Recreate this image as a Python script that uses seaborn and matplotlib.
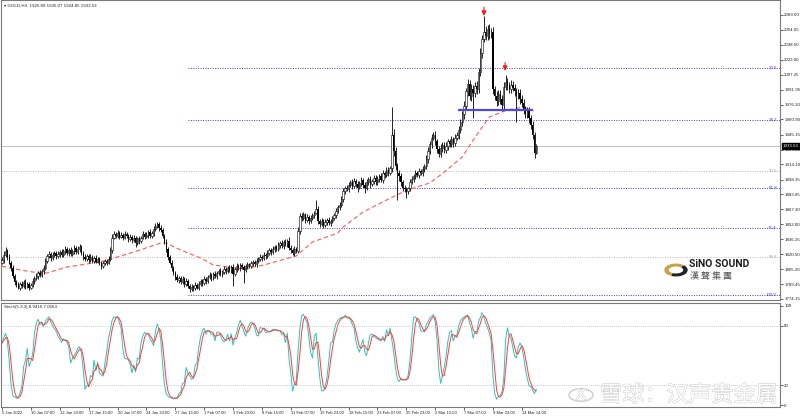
import numpy as np
import pandas as pd
import seaborn as sns
import matplotlib.pyplot as plt
import matplotlib.patheffects as pe
from matplotlib.patches import Circle, Wedge

# GOLD H4 closes, one row per x-axis label (16 bars)
closes = [
    1815, 1820, 1824, 1818, 1812, 1806, 1798, 1792, 1789, 1786, 1790, 1788, 1792, 1787, 1790, 1786,
    1789, 1793, 1796, 1798, 1801, 1799, 1803, 1806, 1814, 1819, 1821, 1817, 1820, 1822, 1819, 1821,
    1823, 1820, 1824, 1826, 1822, 1825, 1821, 1824, 1827, 1823, 1826, 1828, 1822, 1818, 1816, 1819,
    1815, 1818, 1814, 1817, 1813, 1816, 1812, 1808, 1811, 1814, 1812, 1816, 1825, 1838, 1842, 1840,
    1843, 1839, 1841, 1838, 1842, 1840, 1836, 1839, 1835, 1838, 1832, 1837, 1834, 1838, 1842, 1839,
    1841, 1844, 1840, 1843, 1847, 1850, 1852, 1848, 1846, 1840, 1833, 1826, 1818, 1812, 1806, 1801,
    1797, 1794, 1796, 1792, 1795, 1790, 1793, 1788, 1784, 1787, 1785, 1789, 1786, 1790, 1793, 1791,
    1795, 1793, 1797, 1799, 1796, 1800, 1798, 1801, 1803, 1800, 1802, 1805, 1803, 1806, 1804, 1807,
    1800, 1805, 1808, 1806, 1809, 1807, 1804, 1808, 1810, 1808, 1811, 1813, 1810, 1814, 1816, 1818,
    1817, 1820, 1819, 1822, 1825, 1823, 1826, 1828, 1826, 1830, 1832, 1829, 1833, 1831, 1834, 1827,
    1825, 1822, 1826, 1824, 1845, 1860, 1858, 1862, 1856, 1859, 1855, 1858, 1861, 1864, 1868, 1855,
    1852, 1855, 1851, 1854, 1856, 1853, 1855, 1858, 1861, 1866, 1870, 1872, 1878, 1886, 1890, 1888,
    1893, 1896, 1892, 1897, 1894, 1890, 1895, 1898, 1893, 1889, 1896, 1899, 1894, 1897, 1900, 1896,
    1899, 1902, 1898, 1905, 1903, 1908, 1905, 1910, 1945, 1928, 1912, 1905, 1902, 1896, 1890, 1888,
    1886, 1889, 1896, 1899, 1902, 1905, 1903, 1907, 1905, 1909, 1912, 1920, 1928, 1935, 1942, 1945,
    1938, 1930, 1925, 1931, 1934, 1929, 1933, 1938, 1935, 1940, 1936, 1942, 1945, 1950, 1958, 1966,
    1975, 1990, 1998, 1985, 1993, 1988, 1996, 1992, 2010, 2030, 2045, 2052, 2048, 2055, 2050, 2052,
    1992, 1985, 1980, 1987, 1982, 1976, 1995, 2000, 1996, 1992, 1997, 1994, 1990, 1986, 1988, 1982,
    1978, 1972, 1966, 1970, 1962, 1955, 1945, 1925.89, 1933.53,
]
first_open = 1812

# shadow lengths above / below the body
wick_up = [
    3, 4, 4, 2, 3, 2, 3, 2, 2, 3, 2, 3, 2, 3, 2, 2,
    2, 3, 2, 3, 2, 3, 2, 3, 3, 2, 3, 2, 3, 2, 2, 3,
    2, 3, 2, 3, 2, 2, 3, 2, 3, 2, 3, 3, 2, 2, 3, 2,
    2, 3, 2, 2, 3, 2, 2, 2, 3, 2, 2, 3, 3, 4, 3, 2,
    3, 2, 3, 2, 3, 2, 2, 3, 2, 3, 2, 2, 3, 2, 3, 2,
    3, 2, 3, 2, 3, 3, 2, 2, 3, 2, 2, 3, 2, 2, 3, 2,
    2, 3, 2, 2, 3, 2, 3, 2, 2, 3, 2, 3, 2, 3, 2, 2,
    3, 2, 2, 3, 2, 2, 3, 2, 2, 3, 2, 3, 2, 2, 3, 2,
    3, 2, 3, 2, 2, 3, 2, 2, 3, 2, 3, 2, 2, 3, 2, 3,
    2, 3, 2, 3, 2, 2, 3, 2, 2, 3, 2, 3, 2, 3, 2, 5,
    3, 2, 3, 2, 4, 3, 3, 3, 2, 3, 2, 3, 3, 2, 9, 3,
    2, 3, 2, 3, 2, 3, 2, 2, 3, 3, 2, 3, 3, 3, 2, 3,
    3, 2, 3, 3, 2, 3, 2, 3, 2, 3, 3, 2, 3, 2, 3, 3,
    3, 2, 3, 3, 2, 3, 3, 2, 29, 6, 4, 4, 3, 3, 2, 3,
    3, 2, 3, 3, 2, 3, 2, 3, 2, 3, 3, 4, 4, 3, 4, 3,
    4, 3, 3, 4, 3, 3, 4, 3, 3, 4, 3, 4, 3, 4, 3, 4,
    5, 4, 5, 4, 5, 4, 4, 5, 4, 5, 4, 16, 6, 4, 5, 4,
    5, 4, 5, 4, 4, 4, 5, 7, 4, 4, 5, 4, 4, 4, 4, 4,
    4, 4, 3, 4, 4, 3, 4, 3, 1.54,
]
wick_dn = [
    2, 3, 2, 3, 2, 3, 2, 3, 2, 2, 3, 2, 2, 3, 2, 3,
    2, 2, 3, 2, 3, 2, 2, 3, 2, 3, 2, 3, 2, 2, 3, 2,
    3, 2, 2, 3, 2, 3, 2, 2, 3, 2, 2, 3, 2, 3, 2, 2,
    3, 2, 2, 3, 2, 2, 3, 3, 2, 2, 3, 2, 2, 3, 2, 3,
    2, 3, 2, 3, 2, 2, 3, 2, 3, 2, 4, 2, 3, 2, 2, 3,
    2, 3, 2, 2, 3, 2, 2, 3, 2, 3, 2, 3, 3, 2, 3, 2,
    3, 2, 3, 2, 2, 3, 2, 3, 3, 2, 3, 2, 2, 3, 2, 3,
    2, 3, 2, 2, 3, 2, 2, 3, 2, 2, 3, 2, 3, 2, 2, 3,
    12, 2, 3, 2, 3, 2, 13, 2, 3, 2, 2, 3, 2, 3, 2, 2,
    3, 2, 3, 2, 2, 3, 2, 3, 2, 2, 3, 2, 3, 2, 3, 2,
    3, 2, 3, 2, 2, 3, 3, 2, 3, 2, 3, 2, 2, 3, 2, 3,
    3, 2, 3, 2, 3, 2, 3, 2, 2, 3, 2, 3, 2, 3, 3, 2,
    3, 2, 4, 2, 3, 5, 2, 3, 3, 5, 2, 3, 4, 2, 3, 3,
    3, 3, 2, 3, 3, 2, 3, 2, 4, 5, 4, 28, 5, 4, 4, 3,
    7, 3, 3, 2, 3, 3, 2, 3, 2, 3, 3, 3, 4, 3, 4, 3,
    4, 4, 3, 3, 4, 3, 3, 4, 3, 3, 4, 3, 3, 4, 3, 4,
    5, 4, 5, 4, 5, 26, 4, 5, 4, 4, 5, 4, 5, 4, 5, 4,
    5, 4, 5, 4, 5, 6, 4, 4, 5, 4, 4, 4, 5, 28, 4, 5,
    4, 5, 4, 4, 5, 4, 5, 5, 1.04,
]

date_labels = [
    "5 Jan 2022", "10 Jan 07:00", "12 Jan 23:00", "17 Jan 15:00", "20 Jan 07:00",
    "24 Jan 23:00", "27 Jan 15:00", "1 Feb 07:00", "3 Feb 23:00", "8 Feb 15:00",
    "11 Feb 07:00", "15 Feb 23:00", "18 Feb 15:00", "23 Feb 07:00", "25 Feb 23:00",
    "2 Mar 15:00", "7 Mar 07:00", "9 Mar 23:00", "14 Mar 14:00",
]
price_ticks = [
    2069.60, 2054.05, 2038.50, 2023.00, 2007.25, 1991.95, 1976.20, 1960.90, 1945.15,
    1929.40, 1914.10, 1898.35, 1883.05, 1867.30, 1852.00, 1836.25, 1820.50, 1805.20,
    1789.45, 1774.15,
]

# moving average (bar, price)
ma_bars = [0, 4, 17, 25, 36, 54, 60, 73, 88, 91, 99, 110, 117, 134, 145, 163,
           172, 186, 189, 200, 213, 221, 228, 237, 245, 255, 261, 270, 280, 289, 296]
ma_values = [1808.3, 1806.3, 1802.1, 1801.1, 1807.3, 1812.5, 1815.6, 1822.9, 1832.3,
             1832.3, 1825.0, 1816.7, 1809.4, 1805.2, 1809.4, 1818.8, 1833.3, 1842.7,
             1848.9, 1864.5, 1877.0, 1884.3, 1889.5, 1894.7, 1906.1, 1921.8, 1939.4,
             1963.4, 1970.7, 1973.8, 1968.6]

fib_levels = [2014.4, 1960.3, 1890.0, 1847.4, 1778.2]
fib_names = ["23.6", "38.2", "61.8", "76.4", "100.0"]
grey_levels = [1906.7, 1817.7]
grey_names = ["50.0", "88.6"]
fib_start = 103

neck_level = 1970.7
neck_from, neck_to = 252.6, 294.2
arrow_bars = [267, 278.7]
arrow_tips = [2068.5, 2011.2]
arrow_tails = [2077.5, 2020.0]
last_price = 1933.53

# ---- build OHLC table
n = len(closes)
df = pd.DataFrame({"close": closes})
df["open"] = [first_open] + closes[:-1]
df["high"] = df[["open", "close"]].max(axis=1) + wick_up
df["low"] = df[["open", "close"]].min(axis=1) - wick_dn
df["bar"] = np.arange(n)

# stochastic 5,3,3
ll = df["low"].rolling(5, min_periods=1).min()
hh = df["high"].rolling(5, min_periods=1).max()
df["k"] = 100 * (df["close"] - ll).rolling(3, min_periods=1).sum() / (hh - ll).rolling(3, min_periods=1).sum()
df["d"] = df["k"].rolling(3, min_periods=1).mean()

sns.set_theme(style="white")
plt.rcParams["font.family"] = ["Liberation Sans", "DejaVu Sans"]
small = 3.2

W, H = 800, 418
fig = plt.figure(figsize=(8, 4.18), dpi=100)
ax = fig.add_axes([1 / W, 118 / H, 779 / W, 300 / H])
ax2 = fig.add_axes([1 / W, 11 / H, 779 / W, 104 / H])

xlim = (-0.554, 431.0)
for a in (ax, ax2):
    a.set_xlim(*xlim)
    a.set_facecolor("white")
    for s in a.spines.values():
        s.set_color("#7a7a7a")
        s.set_linewidth(0.8)
ax.set_ylim(1773.0, 2085.1)
ax2.set_ylim(-2.0, 103.0)

# price lines
ax.axhline(last_price, color="#b4b4b4", lw=0.6, zorder=1)
for lv in fib_levels:
    ax.hlines(lv, fib_start, xlim[1], color="#3a3aff", lw=0.7, linestyles=(0, (1, 1.5)), zorder=1)
for lv in grey_levels:
    ax.hlines(lv, xlim[0], xlim[1], color="#b8b8b8", lw=0.7, linestyles=(0, (1, 1.5)), zorder=1)
for lv, nm in zip(fib_levels, fib_names):
    ax.text(0.996, lv, nm, transform=ax.get_yaxis_transform(), ha="right", va="center",
            fontsize=small, color="#3a3aff")
for lv, nm in zip(grey_levels, grey_names):
    ax.text(0.996, lv, nm, transform=ax.get_yaxis_transform(), ha="right", va="center",
            fontsize=small, color="#a8a8a8")

# candles
up = df[df["close"] >= df["open"]]
dn = df[df["close"] < df["open"]]
ax.vlines(df["bar"], df["low"], df["high"], color="black", lw=0.6, zorder=3)
ax.bar(up["bar"], up["close"] - up["open"], bottom=up["open"], width=0.75,
       facecolor="white", edgecolor="black", lw=0.4, zorder=4)
ax.bar(dn["bar"], dn["open"] - dn["close"], bottom=dn["close"], width=0.75,
       color="black", lw=0, zorder=4)

sns.lineplot(x=ma_bars, y=ma_values, ax=ax, color="#ff5a5a", lw=0.8,
             linestyle=(0, (4, 2.5)), zorder=2)
ax.hlines(neck_level, neck_from, neck_to, color="#4a4ae6", lw=1.6, zorder=5)
for b, tip, tail in zip(arrow_bars, arrow_tips, arrow_tails):
    ax.annotate("", xy=(b, tip), xytext=(b, tail),
                arrowprops=dict(arrowstyle="-|>,head_width=0.35,head_length=0.7",
                                mutation_scale=4, color="#ee1c1c", lw=0.8,
                                shrinkA=0, shrinkB=0))

ax.set_xticks([])
ax.set_xlabel("")
ax.set_ylabel("")
ax.yaxis.tick_right()
ax.set_yticks(price_ticks)
ax.set_yticklabels([f"{p:.2f}" for p in price_ticks])
ax.tick_params(axis="y", right=True, length=2, width=0.5, pad=1.0, labelsize=small,
               colors="#222222")
ax.annotate(f"{last_price:.2f}", xy=(1.0, last_price), xycoords=ax.get_yaxis_transform(),
            xytext=(2.2, 0), textcoords="offset points", ha="left", va="center",
            fontsize=small, color="white",
            bbox=dict(boxstyle="square,pad=0.2", fc="black", ec="black"))

# stochastic panel
sns.lineplot(x=df["bar"], y=df["k"], ax=ax2, color="#2cc4bb", lw=0.7)
sns.lineplot(x=df["bar"], y=df["d"], ax=ax2, color="#ff3b3b", lw=0.7)
for lv in (20, 80):
    ax2.axhline(lv, color="#b8b8b8", lw=0.6, linestyle=(0, (1, 1.5)))
ax2.set_xlabel("")
ax2.set_ylabel("")
ax2.yaxis.tick_right()
ax2.set_yticks([0, 20, 80, 100])
ax2.tick_params(axis="y", right=True, length=2, width=0.5, pad=1.0, labelsize=small,
                colors="#222222")
ax2.set_xticks(np.arange(len(date_labels)) * 16)
ax2.set_xticklabels(date_labels, ha="left")
ax2.tick_params(axis="x", bottom=True, length=2, width=0.5, pad=1, labelsize=3.0,
                colors="#222222")

fig.text(4 / W, 1 - 6 / H, "\u25be GOLD,H4  1925.89 1935.07 1924.85 1933.53",
         fontsize=small, va="center", color="#222222")
fig.text(4 / W, 1 - 307 / H, "Stoch(5,3,3) 8.9416 7.0563", fontsize=small, va="center",
         color="#222222")

# Sino Sound logo
fig.patches.append(Wedge((676 / W, 1 - 270 / H), 11 / W, 40, 250, width=3 / W,
                         transform=fig.transFigure, color="#c9a24a"))
fig.patches.append(Wedge((676 / W, 1 - 270 / H), 11 / W, 250, 400, width=3 / W,
                         transform=fig.transFigure, color="#222222"))
fig.text(689 / W, 1 - 264 / H, "SiNO SOUND", fontsize=7.5, fontweight="bold",
         family=["Roboto", "DejaVu Sans"], va="center", color="#1e1e1e")
fig.text(690 / W, 1 - 277 / H, "漢 聲 集 團", fontsize=6.5,
         family=["Noto Sans CJK TC", "DejaVu Sans"], va="center", color="#555555")

# watermark
stroke = [pe.Stroke(linewidth=0.8, foreground="#cfcfcf"), pe.Normal()]
wm = fig.text(600 / W, 1 - 395 / H, "雪球：汉声贵金属", fontsize=16,
              family=["Noto Sans CJK SC", "DejaVu Sans"], va="center", color="white")
wm.set_path_effects(stroke)
fig.patches.append(Circle((581 / W, 1 - 395 / H), 12 / W, transform=fig.transFigure,
                          fill=False, ec="#cfcfcf", lw=1.1))
fig.text(581 / W, 1 - 395 / H, "X", fontsize=11, ha="center", va="center",
         color="white", path_effects=stroke)

fig.savefig("out.png", dpi=100, facecolor="white")
